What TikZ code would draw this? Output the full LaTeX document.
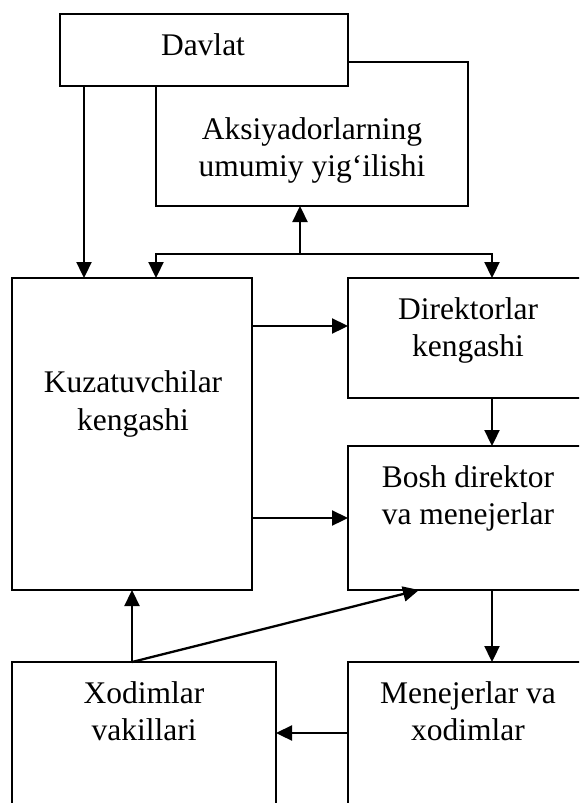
\documentclass[tikz,border=0pt]{standalone}
\usepackage{fontspec}
\setmainfont{Liberation Serif}
\usetikzlibrary{arrows.meta}
\begin{document}
\begin{tikzpicture}[x=1pt,y=-1pt,
  box/.style={draw=black, line width=2.3pt, fill=white, inner sep=0pt, outer sep=0pt, anchor=north west},
  lbl/.style={anchor=base, inner sep=0pt, font=\fontsize{31.5}{37}\selectfont},
  arr/.style={line width=2.3pt, -{Triangle[length=16pt,width=15pt]}}]
\useasboundingbox (0,0) rectangle (579,803);
\clip (0,0) rectangle (579,803);
\fill[white] (0,0) rectangle (579,803);
% boxes
\node[box, minimum width=312pt, minimum height=144pt] (aks) at (156,62) {};
\node[box, minimum width=288pt, minimum height=72pt] (davlat) at (60,14) {};
\node[box, minimum width=240pt, minimum height=312pt] (kuz) at (12,278) {};
\node[box, minimum width=280pt, minimum height=120pt] (dir) at (348,278) {};
\node[box, minimum width=280pt, minimum height=144pt] (bosh) at (348,446) {};
\node[box, minimum width=264pt, minimum height=200pt] (xod) at (12,662) {};
\node[box, minimum width=280pt, minimum height=200pt] (men) at (348,662) {};
% texts
\node[lbl] (tdav) at (203,55) {Davlat};
\node[lbl] (taks1) at (312,139) {Aksiyadorlarning};
\node[lbl] (taks2) at (312,176) {umumiy yig‘ilishi};
\node[lbl] (tkuz1) at (133,392) {Kuzatuvchilar};
\node[lbl] (tkuz2) at (133,430) {kengashi};
\node[lbl] (tdir1) at (468,319) {Direktorlar};
\node[lbl] (tdir2) at (468,356) {kengashi};
\node[lbl] (tbosh1) at (468,487) {Bosh direktor};
\node[lbl] (tbosh2) at (468,524) {va menejerlar};
\node[lbl] (txod1) at (144,703) {Xodimlar};
\node[lbl] (txod2) at (144,740) {vakillari};
\node[lbl] (tmen1) at (468,703) {Menejerlar va};
\node[lbl] (tmen2) at (468,740) {xodimlar};
% helper coordinates
\coordinate (xa) at (84,0);
\coordinate (xb) at (156,0);
\coordinate (xc) at (492,0);
\coordinate (xd) at (132,0);
\coordinate (xe) at (419,0);
\coordinate (ya) at (0,326);
\coordinate (yb) at (0,518);
\coordinate (yc) at (0,733);
\coordinate (j) at (300,254);
% connectors
\draw[arr] (davlat.south -| xa) -- (kuz.north -| xa);
\draw[arr] (j) -- (aks.south -| j);
\draw[arr] (j) -| (kuz.north -| xb);
\draw[arr] (j) -| (dir.north -| xc);
\draw[arr] (kuz.east |- ya) -- (dir.west |- ya);
\draw[arr] (kuz.east |- yb) -- (bosh.west |- yb);
\draw[arr] (dir.south -| xc) -- (bosh.north -| xc);
\draw[arr] (bosh.south -| xc) -- (men.north -| xc);
\draw[arr] (xod.north -| xd) -- (kuz.south -| xd);
\draw[arr] (xod.north -| xd) -- (bosh.south -| xe);
\draw[arr] (men.west |- yc) -- (xod.east |- yc);
\end{tikzpicture}
\end{document}
